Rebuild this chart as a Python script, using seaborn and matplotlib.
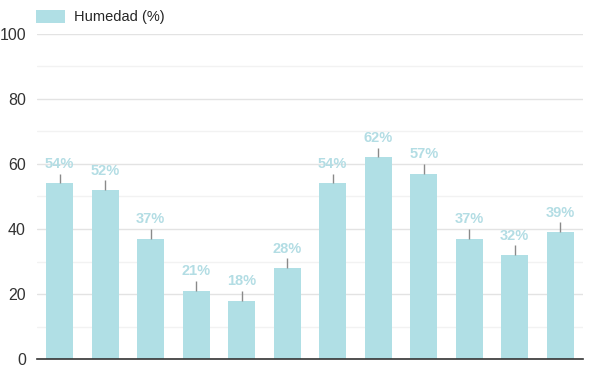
import numpy as np
import pandas as pd
import seaborn as sns
import matplotlib.pyplot as plt

# data
meses = ["Ene", "Feb", "Mar", "Abr", "May", "Jun",
         "Jul", "Ago", "Sep", "Oct", "Nov", "Dic"]
humedad = [54, 52, 37, 21, 18, 28, 54, 62, 57, 37, 32, 39]
error_sup = [3, 3, 3, 3, 3, 3, 3, 3, 3, 3, 3, 3]

bar_color = "#b0dfe5"
label_color = "#b3dde4"

df = pd.DataFrame({"mes": meses, "humedad": humedad})

sns.set_style("white")
plt.rcParams["font.family"] = ["Liberation Sans", "DejaVu Sans"]

fig = plt.figure(figsize=(6.01, 3.69), dpi=100)
ax = fig.add_axes([0.0616, 0.027, 0.9085, 0.881])

sns.barplot(data=df, x="mes", y="humedad", color=bar_color,
            width=0.6, saturation=1, ax=ax, zorder=3, linewidth=0,
            label="Humedad (%)")

# linea de error (solo hacia arriba)
xs = np.arange(len(meses))
ax.errorbar(xs, humedad, yerr=[np.zeros(len(meses)), error_sup],
            fmt="none", ecolor="#8a8a8a", elinewidth=1, capsize=0, zorder=4)

# etiquetas
for x, v, e in zip(xs, humedad, error_sup):
    ax.text(x, v + e + 0.8, f"{v}%", ha="center", va="bottom",
            fontsize=10.5, fontweight="bold", color=label_color, zorder=5)

ax.set_ylim(0, 100)
ax.set_xlim(-0.5, len(meses) - 0.5)
ax.set_yticks(np.arange(0, 101, 20))
ax.set_yticks(np.arange(10, 100, 20), minor=True)
ax.grid(axis="y", which="major", color="#e3e3e3", linewidth=1, zorder=0)
ax.grid(axis="y", which="minor", color="#f2f2f2", linewidth=1, zorder=0)
ax.set_axisbelow(True)
ax.tick_params(axis="y", labelsize=11.5, labelcolor="#333333", length=0, pad=8)
ax.tick_params(axis="x", labelbottom=False, length=0)
ax.set_xlabel("")
ax.set_ylabel("")
for s in ["top", "right", "left"]:
    ax.spines[s].set_visible(False)
ax.spines["bottom"].set_color("#333333")
ax.spines["bottom"].set_linewidth(1.2)
ax.spines["bottom"].set_zorder(6)

leg = ax.legend(loc="lower left", bbox_to_anchor=(-0.012, 1.012), frameon=False,
                handlelength=2.0, handleheight=1.0, fontsize=10.5, borderaxespad=0,
                handletextpad=0.6)

fig.savefig("out.png", dpi=100)
